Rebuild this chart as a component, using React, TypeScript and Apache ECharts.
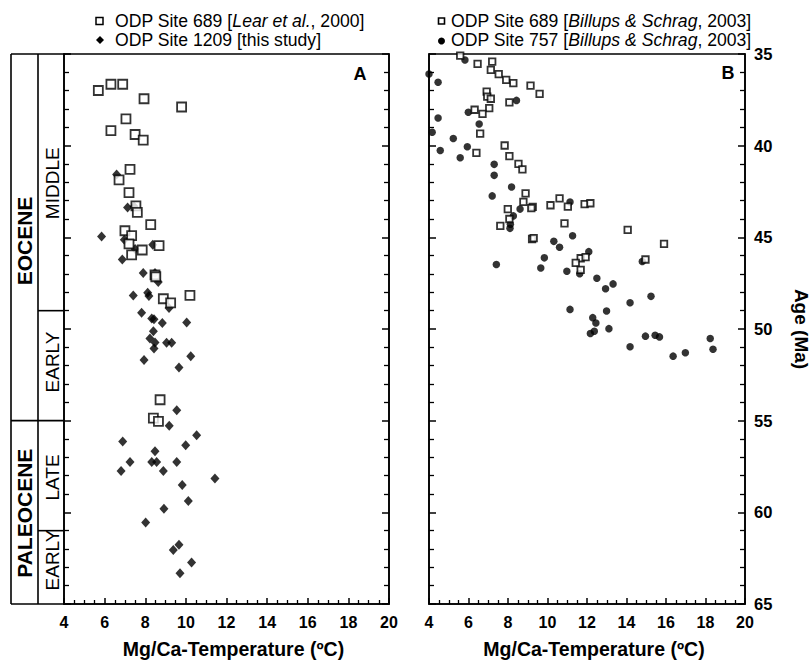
import React, { useEffect, useRef } from "react";
import * as echarts from "echarts";

const FONT = "'Liberation Sans', Arial, Helvetica, sans-serif";

// Panel A: ODP Site 689 [Lear et al., 2000]  -> [temperature ºC, age Ma]
const site689Lear: number[][] = [
  [5.69, 36.99], [6.31, 36.65], [6.89, 36.65], [7.94, 37.44], [9.79, 37.89],
  [7.05, 38.54], [6.31, 39.18], [7.5, 39.39], [7.9, 39.7], [7.25, 41.29],
  [6.71, 41.87], [7.2, 42.56], [7.54, 43.28], [7.61, 43.64], [8.27, 44.31],
  [7.0, 44.64], [7.33, 44.91], [7.2, 45.36], [8.68, 45.45], [7.85, 45.69],
  [7.33, 45.96], [8.48, 47.05], [8.52, 47.15], [8.89, 48.35], [9.25, 48.58],
  [10.2, 48.17], [8.73, 53.86], [8.4, 54.86], [8.65, 55.04],
];

// Panel A: ODP Site 1209 [this study]
const site1209: number[][] = [
  [6.59, 41.57], [5.85, 44.95], [7.13, 43.37], [7.45, 43.32], [6.97, 45.13],
  [7.5, 45.64], [6.87, 46.21], [8.37, 45.4], [7.9, 46.95], [8.48, 46.95],
  [8.64, 47.44], [7.41, 48.17], [8.12, 48.02], [8.18, 48.2], [9.17, 48.85],
  [7.82, 49.12], [8.32, 49.43], [8.43, 49.47], [8.84, 49.67], [10.04, 49.65],
  [8.4, 50.12], [8.23, 50.52], [8.48, 50.73], [8.43, 51.06], [9.05, 50.75],
  [9.3, 50.75], [10.24, 51.48], [7.94, 51.69], [9.66, 52.1], [9.55, 54.43],
  [9.18, 55.28], [10.53, 55.8], [6.89, 56.13], [9.99, 56.34], [8.48, 56.67],
  [7.25, 57.25], [8.32, 57.25], [8.56, 57.25], [9.55, 57.25], [6.81, 57.75],
  [8.89, 57.75], [11.43, 58.15], [9.82, 58.51], [10.12, 59.38], [8.92, 59.8],
  [8.02, 60.56], [9.66, 61.77], [9.38, 62.06], [10.28, 62.73], [9.71, 63.32],
];

// Panel B: ODP Site 689 [Billups & Schrag, 2003]
const site689Billups: number[][] = [
  [5.58, 35.09], [6.46, 35.54], [7.2, 35.42], [7.13, 35.87], [7.53, 36.1],
  [7.91, 36.41], [8.27, 36.59], [9.14, 36.72], [9.6, 37.17], [6.92, 37.05],
  [6.95, 37.32], [7.13, 37.44], [8.07, 37.64], [7.05, 37.95], [6.31, 38.04],
  [6.71, 38.27], [6.59, 39.34], [6.4, 40.39], [7.83, 39.99], [8.07, 40.57],
  [8.53, 40.99], [8.73, 41.29], [8.89, 42.6], [8.78, 43.07], [9.25, 43.34],
  [9.18, 43.41], [7.99, 43.46], [8.07, 44.0], [7.61, 44.37], [10.15, 43.25],
  [10.61, 42.87], [11.03, 43.32], [11.88, 43.19], [12.17, 43.14], [10.86, 44.24],
  [9.22, 45.09], [9.3, 45.04], [11.68, 46.14], [11.93, 46.08], [11.43, 46.39],
  [11.68, 46.77], [14.06, 44.59], [15.9, 45.36], [14.96, 46.21],
];

// Panel B: ODP Site 757 [Billups & Schrag, 2003]
const site757Billups: number[][] = [
  [4.0, 36.09], [5.82, 35.33], [4.46, 36.54], [8.43, 37.53], [5.99, 38.18],
  [4.46, 38.49], [6.54, 38.82], [4.16, 39.27], [5.23, 39.61], [4.57, 40.26],
  [5.94, 40.06], [5.58, 40.66], [7.3, 41.02], [7.3, 41.62], [8.18, 42.25],
  [7.2, 42.74], [11.14, 43.07], [8.61, 43.46], [8.27, 43.83], [8.12, 44.28],
  [8.1, 44.51], [11.27, 44.91], [10.32, 45.22], [10.61, 45.54], [12.09, 45.78],
  [9.84, 46.12], [7.41, 46.48], [9.66, 46.67], [10.98, 46.85], [11.63, 46.99],
  [12.5, 47.23], [12.94, 47.8], [13.32, 47.54], [11.14, 48.93], [12.99, 49.02],
  [12.29, 49.38], [12.45, 49.67], [13.11, 49.98], [12.17, 50.25], [12.37, 50.12],
  [14.8, 46.32], [15.24, 48.22], [14.18, 48.57], [14.96, 50.39], [15.45, 50.34],
  [15.67, 50.43], [18.24, 50.52], [14.18, 50.97], [16.36, 51.48], [16.98, 51.3],
  [18.38, 51.1],
];

// Stratigraphic column (ages in Ma)
const epochNames = ["EOCENE", "PALEOCENE"];
const epochBounds = [35, 55, 65];
const epochLabelAges = [45.2, 60.05];
const subEpochNames = ["MIDDLE", "EARLY", "LATE", "EARLY"];
const subEpochBounds = [35, 49, 55, 61, 65];
const subEpochLabelAges = [42.05, 51.8, 58.1, 62.6];

// Axis ranges
const tempRange = [4, 20];
const tempStep = 2;
const ageRange = [35, 65];
const ageStep = 5;

const xTitle = "Mg/Ca-Temperature (ºC)";
const yTitle = "Age (Ma)";

function xAxisFor(gridIndex: number, shift: number) {
  return {
    type: "value",
    gridIndex,
    position: "bottom",
    min: tempRange[0],
    max: tempRange[1],
    interval: tempStep,
    axisLine: { show: true, onZero: false, lineStyle: { color: "#000", width: 1.6 } },
    axisTick: { show: true, inside: true, length: 6, lineStyle: { color: "#000", width: 1.5 } },
    minorTick: { show: true, splitNumber: 4, length: 4, lineStyle: { color: "#000", width: 1.3 } },
    splitLine: { show: false },
    minorSplitLine: { show: false },
    axisLabel: { color: "#000", fontFamily: FONT, fontWeight: "bold", fontSize: 16, margin: 10 },
    name: xTitle,
    nameLocation: "middle",
    nameGap: 35,
    nameTextStyle: {
      color: "#000",
      fontFamily: FONT,
      fontWeight: "bold",
      fontSize: 19.5,
      padding: [0, 0, 0, shift],
    },
  };
}

function yAxisFor(gridIndex: number, position: string, labels: boolean) {
  return {
    type: "value",
    gridIndex,
    position,
    inverse: true,
    min: ageRange[0],
    max: ageRange[1],
    interval: ageStep,
    axisLine: { show: true, onZero: false, lineStyle: { color: "#000", width: 1.6 } },
    axisTick: { show: true, inside: true, length: 7, lineStyle: { color: "#000", width: 1.5 } },
    minorTick: { show: true, splitNumber: 5, length: 5, lineStyle: { color: "#000", width: 1.3 } },
    splitLine: { show: false },
    minorSplitLine: { show: false },
    axisLabel: {
      show: labels,
      color: "#000",
      fontFamily: FONT,
      fontWeight: "bold",
      fontSize: 16.5,
      margin: 9,
    },
    name: labels ? yTitle : "",
    nameLocation: "middle",
    nameRotate: -90,
    nameGap: 47,
    nameTextStyle: { color: "#000", fontFamily: FONT, fontWeight: "bold", fontSize: 19 },
  };
}

export default function App() {
  const ref = useRef<HTMLDivElement>(null);

  useEffect(() => {
    const chart = echarts.init(ref.current!, null, { renderer: "svg" });
    const option: any = {
      animation: false,
      backgroundColor: "#fff",
      grid: [
        { left: 64, top: 54, width: 325, height: 553, show: true, borderColor: "#000", borderWidth: 1.6 },
        { left: 429, top: 54, width: 325, height: 553, show: true, borderColor: "#000", borderWidth: 1.6 },
      ],
      xAxis: [xAxisFor(0, 14), xAxisFor(1, 14)],
      yAxis: [
        yAxisFor(0, "left", false),
        yAxisFor(0, "right", false),
        yAxisFor(1, "left", false),
        yAxisFor(1, "right", true),
      ],
      series: [
        {
          name: "ODP Site 1209 [this study]",
          type: "scatter",
          xAxisIndex: 0,
          yAxisIndex: 0,
          data: site1209,
          symbol: "diamond",
          symbolSize: [9, 10],
          clip: false,
          itemStyle: { color: "#000" },
        },
        {
          name: "ODP Site 689 [Lear et al., 2000]",
          type: "scatter",
          xAxisIndex: 0,
          yAxisIndex: 0,
          data: site689Lear,
          symbol: "rect",
          symbolSize: 9,
          clip: false,
          itemStyle: { color: "#fff", borderColor: "#000", borderWidth: 1.8 },
        },
        {
          name: "ODP Site 757 [Billups & Schrag, 2003]",
          type: "scatter",
          xAxisIndex: 1,
          yAxisIndex: 2,
          data: site757Billups,
          symbol: "circle",
          symbolSize: 7.5,
          clip: false,
          itemStyle: { color: "#000" },
        },
        {
          name: "ODP Site 689 [Billups & Schrag, 2003]",
          type: "scatter",
          xAxisIndex: 1,
          yAxisIndex: 2,
          data: site689Billups,
          symbol: "rect",
          symbolSize: 6.5,
          clip: false,
          itemStyle: { color: "#fff", borderColor: "#000", borderWidth: 1.8 },
        },
      ],
    };
    chart.setOption(option);

    const yp = (v: number) => chart.convertToPixel({ yAxisIndex: 0 }, v) as number;
    const colL = 11;
    const colM = 38;
    const colR = 64;
    const lw = 1.6;
    const ln = (x1: number, y1: number, x2: number, y2: number) => ({
      type: "line",
      shape: { x1, y1, x2, y2 },
      style: { stroke: "#000", lineWidth: lw },
      silent: true,
    });
    const g: any[] = [];
    const yTop = yp(ageRange[0]);
    const yBot = yp(ageRange[1]);
    g.push(ln(colL, yTop, colR, yTop));
    g.push(ln(colL, yBot, colR, yBot));
    g.push(ln(colL, yTop, colL, yBot));
    g.push(ln(colM, yTop, colM, yBot));
    epochBounds.slice(1, -1).forEach((b) => g.push(ln(colL, yp(b), colR, yp(b))));
    subEpochBounds
      .slice(1, -1)
      .filter((b) => epochBounds.indexOf(b) < 0)
      .forEach((b) => g.push(ln(colM, yp(b), colR, yp(b))));
    epochNames.forEach((n, i) => {
      g.push({
        type: "text",
        x: (colL + colM) / 2,
        y: yp(epochLabelAges[i]),
        rotation: Math.PI / 2,
        style: {
          text: n,
          fill: "#000",
          font: `bold 21px ${FONT}`,
          align: "center",
          verticalAlign: "middle",
        },
      });
    });
    subEpochNames.forEach((n, i) => {
      g.push({
        type: "text",
        x: (colM + colR) / 2 + 1,
        y: yp(subEpochLabelAges[i]),
        rotation: Math.PI / 2,
        style: {
          text: n,
          fill: "#000",
          font: `19px ${FONT}`,
          align: "center",
          verticalAlign: "middle",
        },
      });
    });
    // panel labels
    g.push({
      type: "text",
      x: 360,
      y: 74,
      style: { text: "A", fill: "#000", font: `bold 18px ${FONT}`, align: "center", verticalAlign: "middle" },
    });
    g.push({
      type: "text",
      x: 728,
      y: 73,
      style: { text: "B", fill: "#000", font: `bold 18px ${FONT}`, align: "center", verticalAlign: "middle" },
    });
    // legends
    const fs = 17.6;
    const rich = {
      n: { fontFamily: FONT, fontSize: fs, fill: "#000", color: "#000" },
      i: { fontFamily: FONT, fontSize: fs, fontStyle: "italic", fill: "#000", color: "#000" },
    };
    const legText = (x: number, y: number, text: string) => ({
      type: "text",
      x,
      y,
      style: { text, rich, fill: "#000", font: `${fs}px ${FONT}`, align: "left", verticalAlign: "middle" },
    });
    // panel A legend
    g.push({
      type: "rect",
      shape: { x: 96, y: 17.5, width: 7, height: 7 },
      style: { fill: "#fff", stroke: "#000", lineWidth: 1.5 },
    });
    g.push(legText(115, 21, "{n|ODP Site 689 [}{i|Lear et al.}{n|, 2000]}"));
    g.push({
      type: "polygon",
      shape: { points: [[100, 36], [104, 40], [100, 44], [96, 40]] },
      style: { fill: "#000" },
    });
    g.push(legText(115, 40, "{n|ODP Site 1209 [this study]}"));
    // panel B legend
    g.push({
      type: "rect",
      shape: { x: 438.5, y: 18, width: 6, height: 6 },
      style: { fill: "#fff", stroke: "#000", lineWidth: 1.6 },
    });
    g.push(legText(451, 21, "{n|ODP Site 689 [}{i|Billups & Schrag}{n|, 2003]}"));
    g.push({
      type: "circle",
      shape: { cx: 441.5, cy: 41, r: 3.5 },
      style: { fill: "#000" },
    });
    g.push(legText(451, 40, "{n|ODP Site 757 [}{i|Billups & Schrag}{n|, 2003]}"));

    chart.setOption({ graphic: g });
    return () => chart.dispose();
  }, []);

  return (
    <div
      ref={ref}
      style={{ position: "fixed", left: 0, top: 0, width: 812, height: 664, background: "#fff" }}
    />
  );
}
